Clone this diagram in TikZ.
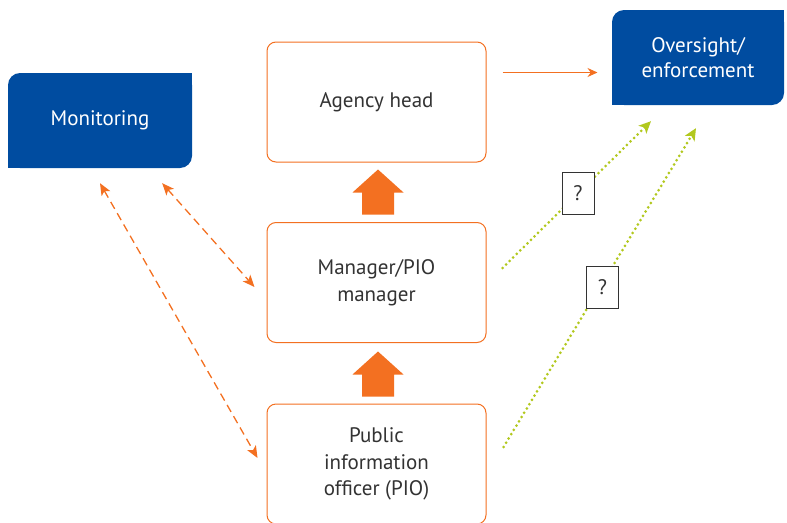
\documentclass[tikz,border=0pt]{standalone}
\usepackage{fontspec}
\setmainfont{PT Sans}
\usetikzlibrary{arrows.meta}
\definecolor{obrand}{RGB}{243,112,33}
\definecolor{bbrand}{RGB}{0,76,160}
\definecolor{gdot}{RGB}{178,200,30}
\definecolor{tgray}{RGB}{51,51,51}

\begin{document}
\begin{tikzpicture}[x=1pt,y=-1pt]
		\tikzstyle{every node}=[font=\fontsize{21}{26.5}\selectfont]
		\tikzstyle{role} = [draw=obrand, rounded corners=9pt, line width=1pt, fill=white, text=tgray, align=center, minimum width=219pt, minimum height=120pt]
		\tikzstyle{authority} = [fill=bbrand, rounded corners=12pt, text=white, align=center, minimum width=172pt, minimum height=95pt, font=\fontsize{21}{25}\selectfont]
		\tikzstyle{uparrow} = [fill=obrand]
		\tikzstyle{qbox} = [draw=black!80, line width=1pt, fill=white, text=tgray, minimum width=32pt, minimum height=42pt, inner sep=0pt, font=\fontsize{21}{22}\selectfont]
		\tikzstyle{flecha} = [->, draw=obrand, line width=1.2pt, >={Stealth[length=10pt,width=9pt]}]
		\tikzstyle{linkdash} = [<->, draw=obrand, line width=1.3pt, dash pattern=on 8pt off 5pt, >={Stealth[length=12pt,width=10pt,inset=3pt]}]
		\tikzstyle{linkdot} = [->, draw=gdot, line width=3pt, line cap=round, dash pattern=on 0pt off 5pt, >={Stealth[length=12pt,width=11pt,inset=3pt,line cap=butt]}]

		\useasboundingbox (0,0) rectangle (787,522);

		% blue boxes
		\draw (100,120.5) node[authority, minimum width=184pt](mon){Monitoring};
		\fill[bbrand] (mon.north east) rectangle ++(-14,14);
		\fill[bbrand] (mon.south west) rectangle ++(14,-14);
		\draw (698,57.5) node[authority](over){Oversight/\\enforcement};
		\fill[bbrand] (over.north east) rectangle ++(-14,14);
		\fill[bbrand] (over.south west) rectangle ++(14,-14);

		% chain of roles
		\draw (376.5,102) node[role](head){Agency head};
		\draw (376.5,282.5) node[role](man){Manager/PIO\\manager};
		\draw (376.5,464) node[role](pio){Public\\information\\officer (PIO)};
		\fill[uparrow] ([xshift=1.5pt,yshift=-7pt]head.south) --++ (25.5,23) --++ (-9.5,0) --++ (0,22)
		   --++ (-32,0) --++ (0,-22) --++ (-9.5,0) -- cycle;
		\fill[uparrow] ([xshift=1.5pt,yshift=-8.5pt]man.south) --++ (25.5,23) --++ (-9.5,0) --++ (0,22)
		   --++ (-32,0) --++ (0,-22) --++ (-9.5,0) -- cycle;

		\draw [flecha] ([xshift=16pt,yshift=-31pt]head.north east) --++ (95,0);

		% monitoring links
		\draw [linkdash] ([yshift=-15pt]mon.south) -- ([xshift=-9pt,yshift=6pt]pio.west);
		\draw [linkdash] ([xshift=-30pt,yshift=-15pt]mon.south east) -- ([xshift=-12pt,yshift=-4.5pt]man.west);

		% uncertain links to oversight
		\draw [linkdot] ([xshift=16pt,yshift=14.5pt]man.east) -- ([xshift=-47pt,yshift=-16pt]over.south);
		\draw [linkdot] ([xshift=17pt,yshift=17pt]pio.east) -- ([xshift=-2pt,yshift=-23pt]over.south);
		\draw (578,193) node[qbox](q1){?};
		\draw (602.5,287.5) node[qbox](q2){?};
	\end{tikzpicture}
\end{document}
